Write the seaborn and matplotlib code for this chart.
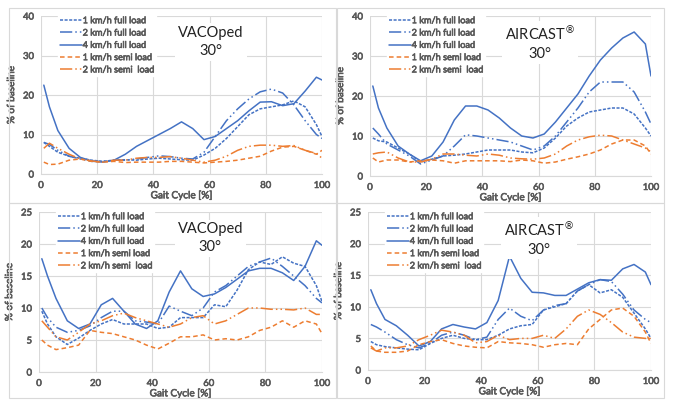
import matplotlib
matplotlib.use("Agg")
import matplotlib.pyplot as plt
import matplotlib.patches as mpatches
import matplotlib.patheffects as pe
import seaborn as sns
import numpy as np

sns.set_style("white")
plt.rcParams['font.family'] = ['Lato', 'DejaVu Sans']

gait = [1, 3, 6, 10, 14, 18, 22, 26, 30, 34, 38, 42, 46, 50, 54, 58, 62, 66, 70, 74, 78, 82, 86, 90, 94, 98, 100]
series_names = ["1 km/h full load", "2 km/h full load", "4 km/h full load", "1 km/h semi load", "2 km/h semi  load"]
titles = ["VACOped\n30°", "AIRCAST$^{®}$\n30°", "VACOped\n30°", "AIRCAST$^{®}$\n30°"]
x_ticks = [0, 20, 40, 60, 80, 100]
y_ticks_top = [0, 10, 20, 30, 40]
y_ticks_bottom = [0, 5, 10, 15, 20, 25]

# Top-left: VACOped
vaco_top_full1 = [8, 7, 5.5, 4.5, 4, 3.5, 3.2, 3.5, 3.6, 3.5, 3.8, 4, 3.8, 3.6, 3.5, 4.8, 6.5, 9, 12, 15, 16.5, 17, 17.5, 18.5, 17, 12.5, 9.5]
vaco_top_full2 = [8, 7.5, 6, 4.5, 3.8, 3.2, 3.2, 3.5, 3.5, 3.8, 4.2, 4.6, 4.4, 4, 3.8, 5.5, 9.5, 13.5, 16.5, 19, 20.8, 21.5, 20.5, 17.5, 13.5, 10, 9]
vaco_top_full4 = [22.5, 17, 11, 6.5, 4.2, 3.3, 3.0, 3.5, 5, 7, 8.5, 10, 11.5, 13.2, 11.5, 8.7, 9.5, 11.5, 13.5, 16, 18.2, 18.3, 17.3, 17.8, 21, 24.5, 23.8]
vaco_top_semi1 = [3, 2.4, 2.5, 3.5, 3.8, 3.2, 3.0, 3.2, 2.9, 3.0, 3.0, 3.0, 3.2, 3.2, 3.0, 2.8, 3.0, 3.2, 3.5, 4, 4.5, 5.8, 6.8, 7, 6, 5, 6]
vaco_top_semi2 = [6.5, 7.8, 6.5, 5, 3.8, 3.3, 3.0, 3.5, 3.5, 4, 4.2, 4.2, 4.4, 4, 3.5, 3, 3.5, 4.5, 6, 7, 7.3, 7.3, 7, 7.2, 6, 5.2, 4]

# Top-right: AIRCAST
air_top_full1 = [9.5, 8.8, 8.5, 7, 5.5, 3.5, 4.2, 5, 5.2, 5.5, 6, 6.5, 6.5, 6.5, 6, 5.8, 7, 9.5, 12.5, 14.5, 16, 16.5, 17, 17, 15.5, 12, 10]
air_top_full2 = [12, 10.5, 8, 6.5, 5, 3, 4, 5, 7.5, 10.3, 10, 9.5, 9, 8.5, 7.5, 6.5, 7.5, 10, 13.5, 17, 21, 23.5, 23.5, 23.5, 21, 16, 13]
air_top_full4 = [22.5, 17, 12, 7.5, 5.5, 3.8, 5, 8.5, 14, 17.5, 17.5, 16.5, 14.5, 12, 10, 9.5, 10.5, 13.5, 17, 20.5, 25, 29, 32, 34.5, 36, 33, 25]
air_top_semi1 = [4.5, 3.5, 4, 4, 3.5, 3.8, 4, 3.8, 3.2, 3.8, 3.8, 3.8, 3.8, 3.6, 4, 3.8, 3.2, 3.5, 4.2, 4.8, 5.5, 6.5, 8, 9, 9, 7.5, 5.5]
air_top_semi2 = [5.5, 5.8, 6, 4.5, 3.5, 3.5, 4.2, 5.5, 5.5, 5.2, 5, 5.5, 5.2, 4.5, 4.3, 4.2, 4.5, 5.5, 7.5, 9, 9.8, 10.2, 10, 9, 8, 7, 6]

# Bottom-left: VACOped
vaco_bot_full1 = [9.5, 7.5, 5.5, 4.3, 5.3, 6.5, 7.5, 8.2, 7.5, 7.5, 7.5, 6.8, 7, 8.5, 8.5, 8.5, 10.5, 10.2, 12.8, 16, 17.2, 16.8, 18, 17, 16.5, 13.5, 11]
vaco_bot_full2 = [10, 8.5, 7, 6.2, 6.5, 7.2, 8.5, 9.5, 9.5, 8, 7.8, 7.5, 10.3, 9.5, 8.8, 10, 12.5, 13.5, 15, 16.5, 17.2, 17.8, 16.5, 15, 13.5, 11.5, 10.8]
vaco_bot_full4 = [17.7, 15, 11.5, 8, 6.8, 7.5, 10.5, 11.5, 9.5, 7.5, 6.8, 8, 12.5, 15.8, 13, 11.8, 12.2, 13.2, 14.5, 15.8, 16.2, 16.2, 15.5, 14.3, 16.5, 20.5, 19.8]
vaco_bot_semi1 = [5, 4.2, 3.5, 3.8, 4.2, 6.5, 6.2, 6, 5.5, 5, 4.2, 3.6, 4.5, 5.5, 5.5, 5.8, 5, 5.2, 5, 5.5, 6.5, 7, 8, 7, 8, 7.5, 6]
vaco_bot_semi2 = [8, 7, 5.5, 5, 6.2, 7.5, 8, 8.8, 9.2, 8.5, 8, 7.5, 7, 7.5, 8.5, 8.8, 7.5, 8, 9, 10, 10, 9.8, 9.8, 9.7, 10, 9, 9]

# Bottom-right: AIRCAST
air_bot_full1 = [4.5, 4, 3.7, 3.5, 3.3, 3.2, 4.2, 5, 5.5, 5, 4.8, 4.8, 5.5, 6.5, 7, 7.2, 9.5, 10, 10.5, 12.5, 13.5, 12.2, 12.7, 11.5, 9, 6.5, 5]
air_bot_full2 = [7.2, 6.8, 6, 4.8, 4, 3.5, 4.2, 5.5, 6, 5.5, 4.8, 5.2, 8, 9.8, 8.5, 7.8, 9.5, 10.2, 10.5, 12.5, 13.5, 14.3, 14, 12, 9.5, 8, 7.5]
air_bot_full4 = [12.7, 10.5, 8, 7, 5.5, 3.8, 4.5, 6.5, 7.2, 6.8, 6.5, 7.5, 11, 18, 14.5, 12.3, 12.2, 11.8, 11.8, 12.8, 13.8, 14.3, 14.2, 16, 16.7, 15.5, 13.5]
air_bot_semi1 = [3.8, 3, 2.8, 2.8, 3, 4, 4.5, 4.8, 4.2, 3.8, 3.6, 3.5, 4.5, 4.3, 4.2, 4, 3.6, 4, 4.2, 4, 6.5, 8, 9.5, 9.8, 8.5, 6, 4.2]
air_bot_semi2 = [3.5, 3, 3.5, 3.5, 3.8, 4.8, 5.5, 6.3, 6, 5.5, 4.3, 4.5, 5.5, 4.8, 5, 5, 5.5, 5, 6.5, 8.5, 9.5, 8.8, 7.5, 6, 5.2, 5, 5]

panels = [
    [vaco_top_full1, vaco_top_full2, vaco_top_full4, vaco_top_semi1, vaco_top_semi2],
    [air_top_full1, air_top_full2, air_top_full4, air_top_semi1, air_top_semi2],
    [vaco_bot_full1, vaco_bot_full2, vaco_bot_full4, vaco_bot_semi1, vaco_bot_semi2],
    [air_bot_full1, air_bot_full2, air_bot_full4, air_bot_semi1, air_bot_semi2],
]

blue = "#4472C4"
orange = "#ED7D31"
colors = [blue, blue, blue, orange, orange]
styles = [(0, (2, 1)), (0, (8, 2, 1, 2, 1, 2)), "-", (0, (3, 2)), (0, (8, 2, 1, 2, 1, 2))]

W, H = 673, 407
fig = plt.figure(figsize=(W / 100, H / 100), dpi=100)

def fr(x0, y0, x1, y1):
    return [x0 / W, 1 - y1 / H, (x1 - x0) / W, (y1 - y0) / H]

axes_px = [(41, 16, 322, 174), (370, 16, 651, 176), (39, 212, 322, 372), (368, 212, 651, 370)]
boxes_px = [(9, 8, 336, 203), (337, 8, 664, 203), (9, 203, 336, 398), (337, 203, 664, 398)]

for b in boxes_px:
    r = mpatches.Rectangle((b[0] / W, 1 - b[3] / H), (b[2] - b[0]) / W, (b[3] - b[1]) / H,
                           transform=fig.transFigure, fill=False, edgecolor="#d9d9d9", lw=0.8)
    fig.add_artist(r)

tick_color = "#595959"
bold = [pe.withStroke(linewidth=0.45, foreground=tick_color)]
for i, (pos, data) in enumerate(zip(axes_px, panels)):
    ax = fig.add_axes(fr(*pos))
    for name, vals, c, ls in zip(series_names, data, colors, styles):
        sns.lineplot(x=gait, y=vals, ax=ax, color=c, linestyle=ls, lw=1.1, label=name)
    ax.set_xlim(0, 100)
    yt = y_ticks_top if i < 2 else y_ticks_bottom
    ax.set_ylim(yt[0], yt[-1])
    ax.set_xticks(x_ticks)
    ax.set_yticks(yt)
    ax.grid(True, color="#d9d9d9", lw=0.8)
    ax.set_axisbelow(True)
    for s in ["top", "right", "left"]:
        ax.spines[s].set_visible(False)
    ax.spines["bottom"].set_color("#d9d9d9")
    ax.tick_params(axis="both", length=0, labelsize=6.8, colors=tick_color, pad=5)
    for lab in ax.get_xticklabels() + ax.get_yticklabels():
        lab.set_path_effects(bold)
    ax.set_xlabel("Gait Cycle [%]", fontsize=7.2, color=tick_color, labelpad=1, path_effects=bold)
    ax.set_ylabel("% of baseline", fontsize=7.2, color=tick_color, labelpad=5, path_effects=bold)
    leg = ax.legend(loc="upper left", bbox_to_anchor=(0.06, 1.01), fontsize=6.6, frameon=True,
                    handlelength=2.4, handletextpad=0.1, labelspacing=0.36, borderpad=0.2,
                    borderaxespad=0.0)
    leg.get_frame().set_edgecolor("white")
    leg.get_frame().set_facecolor("white")
    leg.get_frame().set_alpha(1)
    for t in leg.get_texts():
        t.set_color(tick_color)
        t.set_path_effects(bold)
    ax.text(0.605, 0.835, titles[i], transform=ax.transAxes, ha="center", va="center",
            fontsize=10.5, color="#222222", linespacing=1.35,
            bbox=dict(facecolor="white", edgecolor="none", pad=2))

fig.savefig("out.png", dpi=100)
